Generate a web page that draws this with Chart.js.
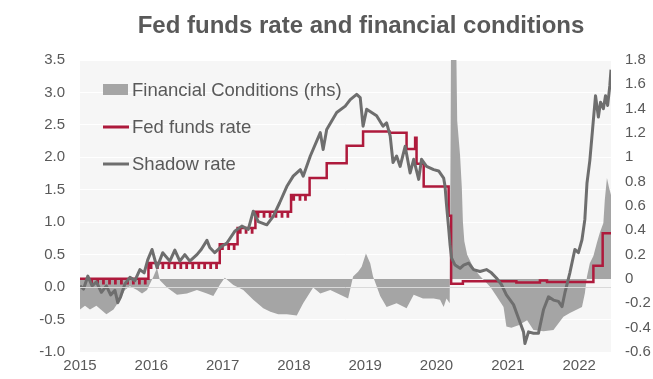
<!DOCTYPE html>
<html><head><meta charset="utf-8">
<script src="https://cdn.jsdelivr.net/npm/chart.js@4.4.1/dist/chart.umd.min.js"></script>
<style>html,body{margin:0;padding:0;background:#fff}canvas{display:block}</style>
</head><body>
<canvas id="c" width="653" height="379"></canvas>
<script>
// ---------------- data ----------------
const TITLE = 'Fed funds rate and financial conditions';
const SERIES_NAMES = ['Financial Conditions (rhs)', 'Fed funds rate', 'Shadow rate'];
const YEAR_TICKS = [2015, 2016, 2017, 2018, 2019, 2020, 2021, 2022];
const X_RANGE = [2015, 2022.447];
const LEFT_RANGE = [-1.0, 3.5, 0.5];
const RIGHT_RANGE = [-0.6, 1.8, 0.2];

// Shadow rate (left axis), decimal-year dates
const shadowDates = [2015.00,2015.05,2015.11,2015.17,2015.23,2015.30,2015.37,2015.43,2015.49,2015.53,2015.57,2015.63,2015.70,2015.77,2015.84,2015.90,2015.95,
2016.01,2016.08,2016.16,2016.26,2016.33,2016.40,2016.47,2016.54,2016.64,2016.70,2016.78,2016.82,2016.89,2016.99,
2017.06,2017.17,2017.27,2017.36,2017.43,2017.50,2017.62,2017.71,2017.80,2017.90,2017.99,
2018.09,2018.13,2018.23,2018.37,2018.41,2018.46,2018.60,2018.72,2018.79,2018.88,2018.93,2018.97,
2019.02,2019.09,2019.16,2019.25,2019.30,2019.35,2019.39,2019.44,2019.49,2019.56,2019.63,2019.68,2019.75,2019.79,2019.86,2019.96,
2020.03,2020.10,2020.12,2020.14,2020.17,2020.19,2020.21,2020.26,2020.33,2020.38,2020.45,2020.52,2020.61,2020.70,2020.77,2020.84,2020.91,2020.98,
2021.08,2021.15,2021.22,2021.24,2021.29,2021.36,2021.43,2021.50,2021.57,2021.64,2021.71,2021.76,2021.80,2021.87,2021.94,2021.99,
2022.04,2022.08,2022.11,2022.15,2022.19,2022.23,2022.27,2022.30,2022.34,2022.37,2022.40,2022.43,2022.447];
const shadowValues = [0.02,-0.03,0.17,0.02,0.08,-0.08,0.02,-0.12,-0.05,-0.24,-0.15,0.05,0.15,0.10,0.27,0.22,0.42,
0.58,0.30,0.53,0.40,0.57,0.40,0.50,0.40,0.50,0.58,0.72,0.61,0.53,0.63,
0.68,0.86,0.94,0.89,1.17,1.01,0.96,1.09,1.30,1.55,1.71,
1.81,1.71,2.02,2.38,2.12,2.43,2.69,2.79,2.89,2.97,2.92,2.48,
2.74,2.69,2.64,2.48,2.53,2.33,1.92,2.02,1.86,2.17,1.76,1.97,1.66,1.97,1.86,1.81,
1.79,1.68,1.55,1.27,0.91,0.65,0.45,0.34,0.29,0.34,0.37,0.27,0.24,0.27,0.22,0.14,0.04,-0.12,
-0.27,-0.48,-0.69,-0.87,-0.69,-0.71,-0.71,-0.35,-0.15,-0.20,-0.22,-0.30,-0.09,0.22,0.58,0.53,
0.73,1.04,1.60,1.95,2.45,2.95,2.62,2.85,2.75,2.95,2.80,3.10,3.35];

// Financial conditions (right axis)
const fciDates = [2015.00,2015.07,2015.14,2015.23,2015.37,2015.47,2015.56,2015.63,2015.70,2015.80,2015.87,2015.94,
2016.03,2016.08,2016.12,2016.22,2016.36,2016.50,2016.64,2016.78,2016.87,2016.96,
2017.03,2017.15,2017.29,2017.43,2017.57,2017.67,2017.78,2017.90,
2018.04,2018.13,2018.27,2018.37,2018.51,2018.65,2018.76,2018.83,2018.90,2018.95,
2019.01,2019.07,2019.11,2019.21,2019.30,2019.44,2019.58,2019.68,2019.81,2019.96,
2020.05,2020.10,2020.14,2020.185,2020.198,2020.205,2020.25,2020.275,2020.29,2020.33,2020.355,2020.37,2020.39,2020.43,2020.52,2020.60,2020.70,2020.76,2020.84,2020.94,2020.98,
2021.05,2021.15,2021.27,2021.36,2021.50,2021.64,2021.78,2021.87,2021.97,
2022.04,2022.08,2022.11,2022.15,2022.20,2022.25,2022.29,2022.34,2022.36,2022.39,2022.42,2022.447];
const fciValues = [-0.25,-0.22,-0.25,-0.22,-0.29,-0.25,-0.17,-0.09,-0.06,-0.09,-0.12,-0.09,
0.02,0.09,-0.01,-0.07,-0.13,-0.12,-0.09,-0.12,-0.14,-0.05,
0.01,-0.05,-0.09,-0.17,-0.24,-0.27,-0.29,-0.29,
-0.30,-0.20,-0.07,-0.12,-0.09,-0.13,-0.16,0.02,0.06,0.10,
0.21,0.13,0.02,-0.14,-0.23,-0.20,-0.24,-0.13,-0.16,-0.16,
-0.17,-0.23,-0.16,-0.20,1.20,2.20,2.60,2.00,1.30,1.02,0.75,0.47,0.31,0.20,0.09,0.03,-0.03,-0.07,-0.14,-0.23,-0.39,
-0.40,-0.38,-0.34,-0.42,-0.43,-0.42,-0.31,-0.28,-0.25,
-0.23,-0.12,0.02,0.13,0.19,0.30,0.38,0.46,0.65,0.83,0.75,0.69];

// Fed funds rate: level changes
const ffStepDates = [2015.00,2015.96,2016.96,2017.21,2017.46,2017.96,2018.22,2018.46,2018.74,2018.97,2019.34,2019.58,2019.70,2019.72,2019.82,2020.17,2020.205,2020.37,2021.12,2021.45,2021.55,2022.20,2022.33,2022.447];
const ffStepValues = [0.13,0.37,0.66,0.91,1.16,1.42,1.68,1.91,2.18,2.40,2.38,2.13,2.30,1.90,1.55,1.10,0.05,0.09,0.07,0.10,0.08,0.33,0.83,0.83];
// Fed funds rate: month-end dips
const ffDipDates = [2015.160,2015.245,2015.327,2015.412,2015.494,2015.579,2015.664,2015.746,2015.831,2015.913,2015.995,
2016.083,2016.160,2016.245,2016.327,2016.412,2016.494,2016.579,2016.664,2016.746,2016.831,2016.913,2016.995,
2017.083,2017.160,2017.245,2017.327,2017.412,2017.494,2017.579,2017.664,2017.746,2017.831,2017.913,2017.995,
2018.083,2018.160];
const ffDipValues = [0.06,0.06,0.06,0.06,0.06,0.06,0.06,0.06,0.06,0.06,0.30,
0.30,0.30,0.30,0.30,0.30,0.30,0.30,0.30,0.30,0.30,0.30,0.59,
0.59,0.59,0.84,0.84,0.84,1.09,1.09,1.09,1.09,1.09,1.09,1.35,
1.35,1.35];

// ---------------- build ----------------
const pts = (xs, ys) => xs.map((x, i) => ({x, y: ys[i]}));
const ffPoints = pts(ffStepDates, ffStepValues);
ffDipDates.forEach((d, i) => {
  let lvl = ffStepValues[0];
  ffStepDates.forEach((s, j) => { if (s <= d) lvl = ffStepValues[j]; });
  ffPoints.push({x: d, y: ffDipValues[i]});
  ffPoints.push({x: d + 0.004, y: lvl});
});
ffPoints.sort((a, b) => a.x - b.x);

const FONT = "'Liberation Sans', Arial, sans-serif";
const TXT = '#595959';
const COLORS = ['#a5a5a5', '#ae1a3c', '#6e6e6e'];

const plotBg = {
  id: 'plotBg',
  beforeDraw(chart) {
    const {ctx, chartArea: a} = chart;
    ctx.save(); ctx.fillStyle = '#f6f6f6';
    ctx.fillRect(a.left, a.top, a.right - a.left, a.bottom - a.top);
    ctx.restore();
  }
};
const zeroLine = {
  id: 'zeroLine',
  afterDatasetsDraw(chart) {
    const {ctx, chartArea: a, scales} = chart;
    const y = Math.round(scales.y.getPixelForValue(0)) + 0.5;
    ctx.save(); ctx.strokeStyle = '#d9d9d9'; ctx.lineWidth = 1;
    ctx.beginPath(); ctx.moveTo(a.left, y); ctx.lineTo(a.right, y); ctx.stroke();
    ctx.restore();
  }
};
const titleAndLegend = {
  id: 'titleAndLegend',
  afterDraw(chart) {
    const {ctx} = chart;
    ctx.save();
    ctx.fillStyle = TXT;
    ctx.font = 'bold 24px ' + FONT;
    ctx.textAlign = 'center'; ctx.textBaseline = 'alphabetic';
    ctx.fillText(TITLE, 361, 33);
    // legend
    const rows = [90, 127, 164];
    ctx.font = '18.5px ' + FONT;
    ctx.textAlign = 'left'; ctx.textBaseline = 'middle';
    chart.data.datasets.forEach((ds, i) => {
      const y = rows[i];
      if (i === 0) {
        ctx.fillStyle = COLORS[0];
        ctx.fillRect(103, y - 6, 25, 11);
      } else {
        ctx.strokeStyle = COLORS[i]; ctx.lineWidth = 3;
        ctx.beginPath(); ctx.moveTo(103, y); ctx.lineTo(129, y); ctx.stroke();
      }
      ctx.fillStyle = TXT;
      ctx.fillText(ds.label, 132, y + 1);
    });
    ctx.restore();
  }
};

new Chart(document.getElementById('c'), {
  type: 'line',
  data: {
    datasets: [
      { label: SERIES_NAMES[0], data: pts(fciDates, fciValues), yAxisID: 'y1',
        borderWidth: 0, borderColor: 'rgba(0,0,0,0)', backgroundColor: COLORS[0],
        fill: {value: 0}, pointRadius: 0, order: 3 },
      { label: SERIES_NAMES[1], data: ffPoints, yAxisID: 'y', stepped: true,
        borderWidth: 2.5, borderColor: COLORS[1], fill: false, pointRadius: 0, order: 2 },
      { label: SERIES_NAMES[2], data: pts(shadowDates, shadowValues), yAxisID: 'y',
        borderWidth: 3, borderColor: COLORS[2], fill: false, pointRadius: 0, order: 1,
        borderJoinStyle: 'round' }
    ]
  },
  options: {
    responsive: false, animation: false, devicePixelRatio: 1,
    layout: { padding: { top: 60, left: 0, right: 0, bottom: 0 } },
    plugins: { legend: { display: false }, title: { display: false }, tooltip: { enabled: false } },
    scales: {
      x: {
        type: 'linear', min: X_RANGE[0], max: X_RANGE[1],
        afterBuildTicks: s => { s.ticks = YEAR_TICKS.map(v => ({value: v})); },
        ticks: { callback: v => String(v), font: {family: FONT, size: 15}, color: TXT,
                 padding: 5, maxRotation: 0, autoSkip: false },
        grid: { display: false, drawTicks: false }, border: { display: false },
        afterFit: s => { s.height = 27; }
      },
      y: {
        position: 'left', min: LEFT_RANGE[0], max: LEFT_RANGE[1],
        ticks: { stepSize: LEFT_RANGE[2], callback: v => Number(v).toFixed(1),
                 font: {family: FONT, size: 15}, color: TXT, padding: 15 },
        grid: { color: '#ffffff', lineWidth: 1, drawTicks: false }, border: { display: false },
        afterFit: s => { s.width = 80; }
      },
      y1: {
        position: 'right', min: RIGHT_RANGE[0], max: RIGHT_RANGE[1],
        ticks: { stepSize: RIGHT_RANGE[2], callback: v => String(Number(Number(v).toFixed(1))),
                 font: {family: FONT, size: 15}, color: TXT, padding: 14 },
        grid: { display: false, drawTicks: false }, border: { display: false },
        afterFit: s => { s.width = 42; }
      }
    }
  },
  plugins: [plotBg, zeroLine, titleAndLegend]
});
</script>
</body></html>
